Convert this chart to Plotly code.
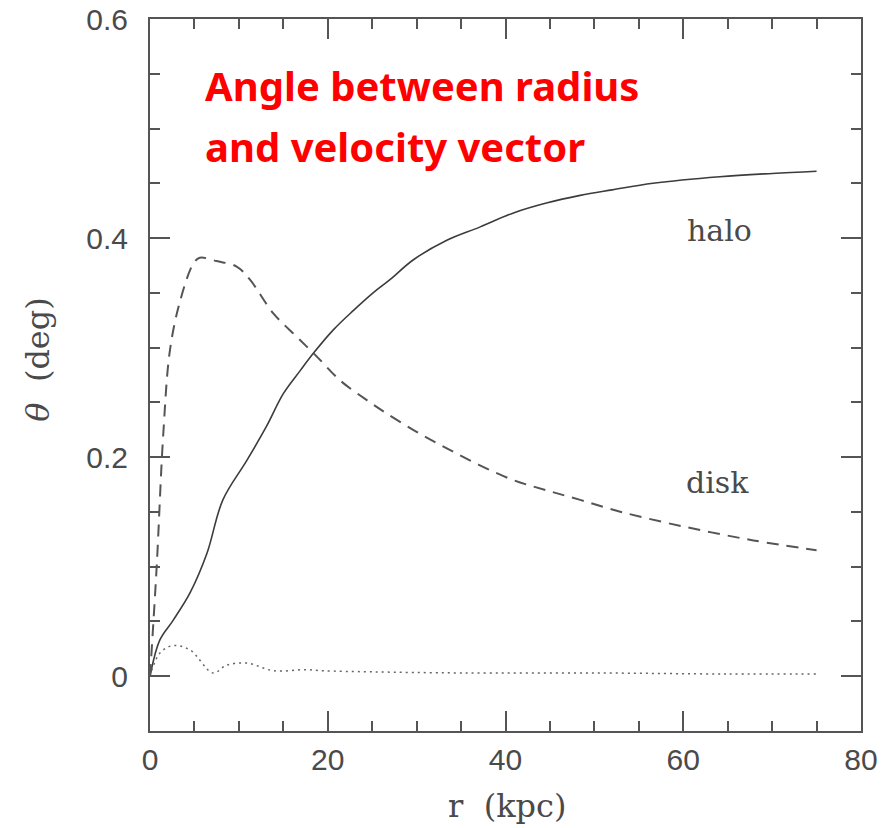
import plotly.graph_objects as go

# Radial profiles of the angle between radius and velocity vector
halo_r = [0.0, 1.1, 2.6, 4.5, 6.4, 8.2, 10.9, 13.1, 15.0, 16.9, 18.4, 20.6, 22.9, 25.1, 27.0,
          29.6, 33.4, 37.1, 40.9, 44.6, 48.4, 52.0, 56.6, 64.1, 70.0, 75.0]
halo_theta = [0.0, 0.033, 0.051, 0.076, 0.112, 0.161, 0.197, 0.228, 0.258, 0.279, 0.295, 0.316,
              0.334, 0.350, 0.362, 0.380, 0.398, 0.410, 0.423, 0.432, 0.439, 0.444, 0.450,
              0.456, 0.459, 0.461]

disk_r = [0.0, 0.75, 1.5, 2.25, 3.4, 4.9, 5.6, 7.5, 9.75, 11.25, 13.9, 16.5, 18.75, 21.4, 24.4,
          26.6, 30.0, 33.4, 37.0, 40.9, 44.5, 48.4, 53.0, 60.4, 67.9, 75.0]
disk_theta = [0.0, 0.100, 0.222, 0.298, 0.343, 0.377, 0.382, 0.379, 0.374, 0.362, 0.331, 0.310,
              0.292, 0.270, 0.252, 0.240, 0.223, 0.208, 0.193, 0.179, 0.170, 0.161, 0.150,
              0.136, 0.124, 0.115]

bulge_r = [0.0, 1.1, 2.6, 4.5, 7.1, 8.6, 10.9, 13.9, 17.6, 19.5, 25.0, 35.0, 50.0, 65.0, 75.0]
bulge_theta = [0.0, 0.021, 0.028, 0.024, 0.003, 0.010, 0.012, 0.005, 0.006, 0.005, 0.004,
               0.003, 0.003, 0.002, 0.002]

x_ticks = [0, 20, 40, 60, 80]
y_ticks = [0, 0.2, 0.4, 0.6]
y_tick_text = ["0", "0.2", "0.4", "0.6"]

grey = "#4a4a4a"

fig = go.Figure()
fig.add_trace(go.Scatter(x=halo_r, y=halo_theta, mode="lines", line_shape="spline",
                         line=dict(color="#3c3c3c", width=1.6)))
fig.add_trace(go.Scatter(x=disk_r, y=disk_theta, mode="lines", line_shape="spline",
                         line=dict(color="#555555", width=2, dash="12px,8px")))
fig.add_trace(go.Scatter(x=bulge_r, y=bulge_theta, mode="lines", line_shape="spline",
                         line=dict(color="#666666", width=1.5, dash="2px,4px")))

axis_common = dict(
    showline=True, linecolor="#555555", linewidth=2, mirror="allticks",
    ticks="inside", tickcolor="#555555", tickwidth=1.5, ticklen=20,
    showgrid=False, zeroline=False, automargin=False,
    tickfont=dict(family="Liberation Sans", size=30, color=grey),
)

fig.update_xaxes(range=[0, 80], tickvals=x_ticks, ticklabelstandoff=1,
                 minor=dict(dtick=5, ticks="inside", ticklen=10, tickcolor="#555555", tickwidth=1.5),
                 **axis_common)
fig.update_yaxes(range=[-0.05, 0.6], tickvals=y_ticks, ticktext=y_tick_text, ticklabelstandoff=14,
                 minor=dict(dtick=0.05, ticks="inside", ticklen=10, tickcolor="#555555", tickwidth=1.5),
                 **axis_common)

title_font = dict(family="Noto Sans", size=40, color="#ff0000", weight="bold")

annotations = [
    dict(x=6.0, y=0.539, xref="x", yref="y", text="Angle between radius", showarrow=False,
         xanchor="left", yanchor="middle", font=title_font),
    dict(x=6.0, y=0.484, xref="x", yref="y", text="and velocity vector", showarrow=False,
         xanchor="left", yanchor="middle", font=title_font),
    dict(x=64.1, y=0.407, xref="x", yref="y", text="halo", showarrow=False,
         font=dict(family="DejaVu Serif", size=30, color=grey)),
    dict(x=63.8, y=0.177, xref="x", yref="y", text="disk", showarrow=False,
         font=dict(family="DejaVu Serif", size=30, color=grey)),
    dict(x=0.502, y=-0.105, xref="paper", yref="paper", text="r  (kpc)", showarrow=False,
         yanchor="middle", font=dict(family="DejaVu Serif", size=32, color=grey)),
    dict(x=-0.158, y=0.521, xref="paper", yref="paper", text="<i>θ</i>  (deg)", showarrow=False,
         textangle=-90, xanchor="center", font=dict(family="DejaVu Serif", size=32, color=grey)),
]

fig.update_layout(
    width=895, height=828,
    margin=dict(l=150, r=34, t=19, b=97),
    paper_bgcolor="white", plot_bgcolor="white",
    showlegend=False,
    annotations=annotations,
)

fig.write_html("out.html")
